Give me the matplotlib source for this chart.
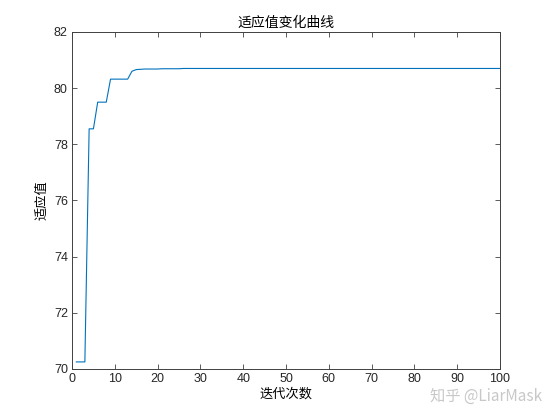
import matplotlib
matplotlib.use("Agg")
import matplotlib.pyplot as plt

plt.rcParams['font.family'] = ['Liberation Sans', 'Noto Sans CJK SC', 'DejaVu Sans']

# fitness value per iteration
iterations = list(range(1, 101))
fitness = [
    70.25, 70.25, 70.25, 78.55, 78.55, 79.50, 79.50, 79.50, 80.32, 80.32,
    80.32, 80.32, 80.32, 80.60, 80.66, 80.67, 80.68, 80.68, 80.68, 80.68,
    80.69, 80.69, 80.69, 80.69, 80.69, 80.70, 80.70, 80.70, 80.70, 80.70,
    80.70, 80.70, 80.70, 80.70, 80.70, 80.70, 80.70, 80.70, 80.70, 80.70,
    80.70, 80.70, 80.70, 80.70, 80.70, 80.70, 80.70, 80.70, 80.70, 80.70,
    80.70, 80.70, 80.70, 80.70, 80.70, 80.70, 80.70, 80.70, 80.70, 80.70,
    80.70, 80.70, 80.70, 80.70, 80.70, 80.70, 80.70, 80.70, 80.70, 80.70,
    80.70, 80.70, 80.70, 80.70, 80.70, 80.70, 80.70, 80.70, 80.70, 80.70,
    80.70, 80.70, 80.70, 80.70, 80.70, 80.70, 80.70, 80.70, 80.70, 80.70,
    80.70, 80.70, 80.70, 80.70, 80.70, 80.70, 80.70, 80.70, 80.70, 80.70,
]
x_ticks = list(range(0, 101, 10))
y_ticks = [70, 72, 74, 76, 78, 80, 82]

fig = plt.figure(figsize=(5.54, 4.15), dpi=100)
ax = fig.add_axes([0.13, 0.111, 0.7725, 0.812])
ax.plot(iterations, fitness, color="#0072BD", linewidth=0.8)

ax.set_xlim(0, 100)
ax.set_ylim(70, 82)
ax.set_xticks(x_ticks)
ax.set_yticks(y_ticks)
ax.tick_params(direction="in", top=True, right=True, length=3.5, width=0.6,
               labelsize=9, colors="#404040", labelcolor="#262626", pad=3)
for s in ax.spines.values():
    s.set_color("#404040")
    s.set_linewidth(0.7)

ax.set_title("适应值变化曲线", fontsize=10, family=['Noto Sans CJK SC'], pad=4)
ax.set_xlabel("迭代次数", fontsize=9.5, family=['Noto Sans CJK SC'], labelpad=2)
ax.set_ylabel("适应值", fontsize=9.5, family=['Noto Sans CJK SC'], labelpad=4)

fig.text(0.978, 0.045, "知乎 @LiarMask", ha="right", va="center", fontsize=11,
         color="#c8c8c8", family=['Noto Sans CJK SC', 'DejaVu Sans'])

fig.savefig("out.png", dpi=100, facecolor="white")
